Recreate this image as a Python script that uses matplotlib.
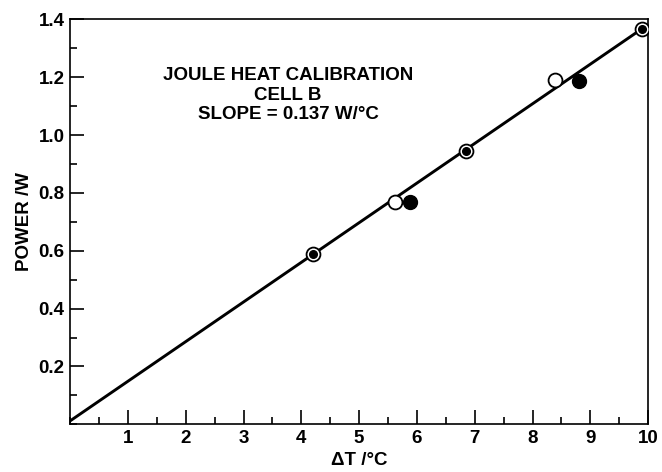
import matplotlib.pyplot as plt
from matplotlib.ticker import MultipleLocator

# both runs coincide (circled dot)
both_dt = [4.2, 6.85, 9.9]
both_power = [0.59, 0.944, 1.367]
# open circles
open_dt = [5.62, 8.39]
open_power = [0.77, 1.19]
# filled circles
filled_dt = [5.88, 8.8]
filled_power = [0.767, 1.188]

slope = 0.137
intercept = 0.012
fit_dt = [0.0, 9.9]
fit_power = [intercept + slope * t for t in fit_dt]

plt.rcParams["font.family"] = ["Liberation Sans", "DejaVu Sans"]
plt.rcParams["font.weight"] = "bold"

fig = plt.figure(figsize=(6.62, 4.72), dpi=100)
ax = fig.add_axes([0.106, 0.101, 0.873, 0.858])

ax.plot(fit_dt, fit_power, color="black", lw=2.1, zorder=2)
ax.plot(open_dt, open_power, "o", ms=10, mfc="white", mec="black", mew=1.3, zorder=3)
ax.plot(filled_dt, filled_power, "o", ms=10, mfc="black", mec="black", zorder=3)
ax.plot(both_dt, both_power, "o", ms=10, mfc="white", mec="black", mew=1.3, zorder=3)
ax.plot(both_dt, both_power, "o", ms=5.5, mfc="black", mec="black", zorder=4)

ax.set_xlim(0, 10)
ax.set_ylim(0, 1.4)
ax.xaxis.set_minor_locator(MultipleLocator(0.5))
ax.yaxis.set_minor_locator(MultipleLocator(0.1))
ax.set_xticks(range(1, 11))
ax.set_yticks([0.2, 0.4, 0.6, 0.8, 1.0, 1.2, 1.4])
ax.set_xticklabels([str(i) for i in range(1, 11)])
ax.set_yticklabels(["0.2", "0.4", "0.6", "0.8", "1.0", "1.2", "1.4"])

ax.tick_params(which="both", direction="in", width=1.2, labelsize=13.5, pad=4)
ax.tick_params(which="major", length=10)
ax.tick_params(which="minor", length=5)
for s in ax.spines.values():
    s.set_linewidth(1.2)

ax.set_xlabel("\u0394T /\u00b0C", fontsize=13.5, fontweight="bold", labelpad=4)
ax.set_ylabel("POWER /W", fontsize=13.5, fontweight="bold", labelpad=4)

ax.text(0.377, 0.813, "JOULE HEAT CALIBRATION\nCELL B\nSLOPE = 0.137 W/\u00b0C",
        transform=ax.transAxes, ha="center", va="center", fontsize=13.5,
        fontweight="bold", linespacing=1.2)

fig.savefig("out.png", dpi=100)
